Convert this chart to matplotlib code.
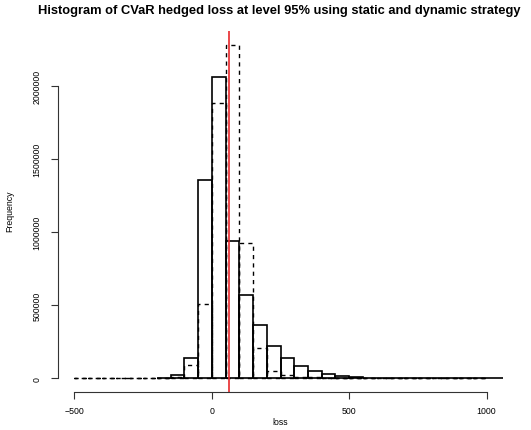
import numpy as np
import matplotlib
matplotlib.use("Agg")
import matplotlib.pyplot as plt

plt.rcParams['font.family'] = ['Liberation Sans', 'DejaVu Sans']

# dynamic strategy (dashed), bins of 50 from -500 to 1000
dyn_start = -500
dyn_counts = [0, 0, 0, 0, 0, 0,
              1000, 8000, 91000, 509000, 1886000, 2285000, 925000, 205000,
              50000, 20000, 10000, 6000, 4000, 2000, 1000,
              500, 0, 0, 0, 0, 0, 0, 0, 0]

# static strategy (solid), bins of 50 from -200
stat_start = -200
stat_counts = [3000, 22000, 141000, 1358000, 2066000, 940000, 573000, 363000,
               223000, 137000, 82000, 48000, 27000, 16000, 9000, 5000,
               3000, 2000, 1000, 500, 0, 0, 0, 0, 0, 0]

binw = 50
cvar_level = 62  # red line

xticks = [-500, 0, 500, 1000]
yticks = [0, 500000, 1000000, 1500000, 2000000]

fig = plt.figure(figsize=(5.31, 4.31), dpi=100)
ax = fig.add_axes([58/531, 38.3/431, 445/531, 360.3/431])

dyn_left = dyn_start + binw*np.arange(len(dyn_counts))
stat_left = stat_start + binw*np.arange(len(stat_counts))

ax.bar(dyn_left, dyn_counts, width=binw, align='edge', fill=False,
       edgecolor='black', linewidth=1.0, linestyle=(0, (3, 3)))
ax.bar(stat_left, stat_counts, width=binw, align='edge', fill=False,
       edgecolor='black', linewidth=1.2)
ax.axvline(cvar_level, color='#e8292b', linewidth=1.2)

ymax = max(dyn_counts)
ax.set_xlim(-560, 1060)
ax.set_ylim(-0.04*ymax, 1.04*ymax)

for s in ['top', 'right']:
    ax.spines[s].set_visible(False)
ax.spines['left'].set_bounds(0, 2000000)
ax.spines['bottom'].set_bounds(-500, 1000)
ax.spines['left'].set_color('#333333')
ax.spines['bottom'].set_color('#333333')

ax.set_xticks(xticks)
ax.set_xticklabels([str(v).replace('-', '\u2212') for v in xticks])
ax.set_yticks(yticks)
ax.set_yticklabels([str(v) for v in yticks], rotation=90, va='center')
ax.tick_params(axis='both', direction='out', length=5, width=0.8,
               labelsize=6.3, color='#333333')
ax.tick_params(axis='x', pad=5)
ax.tick_params(axis='y', pad=7)

fig.text(279.5/531, 1 - 11/431,
         'Histogram of CVaR hedged loss at level 95% using static and dynamic strategy',
         ha='center', va='center', fontsize=9.3, fontweight='bold')
fig.text(280/531, 1 - 423/431, 'loss', ha='center', va='center', fontsize=6.3)
fig.text(10/531, 1 - 211/431, 'Frequency', ha='center', va='center',
         fontsize=6.3, rotation=90)

fig.savefig('out.png', dpi=100)
